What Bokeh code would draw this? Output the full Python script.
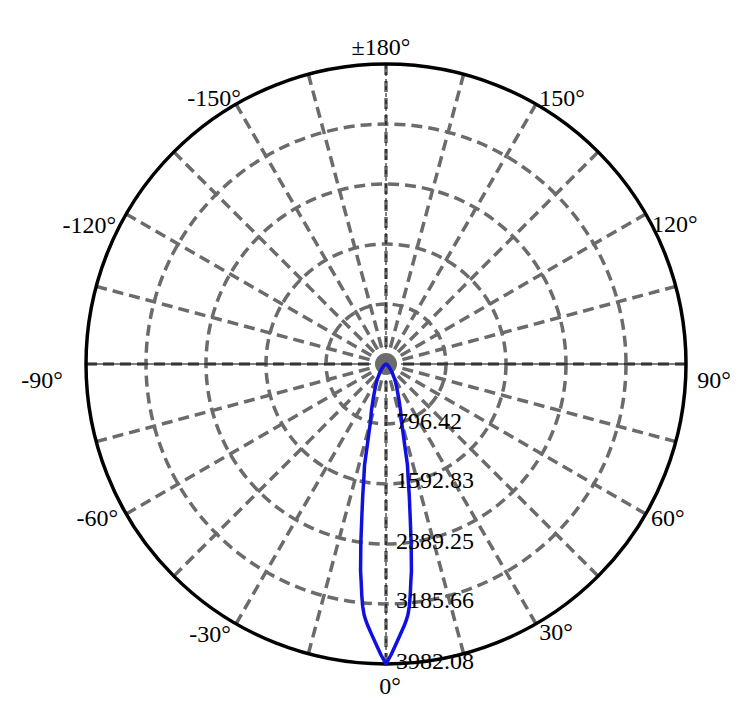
import numpy as np
from bokeh.plotting import figure
from bokeh.models import Range1d, ColumnDataSource
from bokeh.core.properties import value
from bokeh.embed import file_html
from bokeh.resources import INLINE

# ---- data ----
angles_deg = [0, 1, 2, 3, 4, 4.5, 5, 5.5, 6, 6.5, 7, 8, 9, 10, 11, 12, 13, 14, 15, 17.5,
              20, 22.5, 25, 27.5, 30, 35, 40, 45, 50, 55, 60, 70, 80, 90]
intensity = [3982.08, 3860, 3725, 3600, 3480, 3415, 3340, 3230, 3080, 2910, 2770, 2400,
             2050, 1780, 1540, 1370, 1100, 930, 800, 640, 500, 400, 330, 275, 230, 150,
             95, 60, 35, 20, 12, 5, 2, 0]
ring_values = [796.42, 1592.83, 2389.25, 3185.66, 3982.08]
ring_labels = ["796.42", "1592.83", "2389.25", "3185.66", "3982.08"]
spoke_angles = list(range(0, 360, 15))
tick_angles = [0, 30, 60, 90, 120, 150, 180, -150, -120, -90, -60, -30]
tick_labels = ["0°", "30°", "60°", "90°", "120°", "150°", "±180°",
               "-150°", "-120°", "-90°", "-60°", "-30°"]

# ---- layout ----
W, H = 747, 715
R_PX = 300.0
CX, CY = 385.5, 363.5
R = ring_values[-1]
s = R / R_PX
FONT = value("'Liberation Serif', 'Times New Roman', 'DejaVu Serif', serif")
FS = "24px"
GRAY = "#6b6b6b"
# screen-pixel nudges of each angle label's centre from its spoke end (layout only)
LABEL_DX = [4, 20, 22, 28, 29, 26, -5, -22, -37, -44, -29, -26]
LABEL_DY = [22, 8, 4, 16, 10, -6, -17, -6, 11, 16, 4, 10]

p = figure(width=W, height=H, output_backend="svg", toolbar_location=None,
           x_range=Range1d(-CX * s, (W - CX) * s),
           y_range=Range1d(-(H - CY) * s, CY * s),
           min_border=0, outline_line_color=None)
p.axis.visible = False
p.grid.visible = False
p.background_fill_color = "white"

# spokes
th = np.radians(spoke_angles)
p.segment(x0=np.zeros(len(th)), y0=np.zeros(len(th)),
          x1=R * np.sin(th), y1=-R * np.cos(th),
          line_color=GRAY, line_width=3.5, line_dash="11 6")

# dashed rings
p.circle(x=[0] * 4, y=[0] * 4, radius=ring_values[:-1], fill_color=None,
         line_color=GRAY, line_width=3.5, line_dash="11 6")

# thin black axes lines
p.segment(x0=[-R], y0=[0], x1=[R], y1=[0], line_color="black", line_width=1)
p.segment(x0=[0], y0=[-R], x1=[0], y1=[R], line_color="black", line_width=1,
          line_dash="4 3")

# outer ring
p.circle(x=[0], y=[0], radius=[R], fill_color=None, line_color="black", line_width=3.5)

# center marker
p.circle(x=[0], y=[0], radius=[15 * s], fill_color="white", line_color=None)
p.circle(x=[0], y=[0], radius=[11 * s], fill_color=GRAY, line_color=None)

# intensity curve (symmetric)
a = np.array(angles_deg, dtype=float)
I = np.array(intensity, dtype=float)
full_a = np.concatenate([-a[::-1], a[1:]])
full_I = np.concatenate([I[::-1], I[1:]])
ra = np.radians(full_a)
p.line(x=full_I * np.sin(ra), y=-full_I * np.cos(ra), line_color="#1010e0",
       line_width=3.5, line_join="round")

# ring labels
p.text(x=[0] * 5, y=[-v for v in ring_values], text=ring_labels,
       text_font=FONT, text_font_size=FS, text_align="left",
       text_baseline="middle", x_offset=10, y_offset=-3, text_color="black")

# angle labels
ta = np.radians(tick_angles)
src = ColumnDataSource(dict(x=R * np.sin(ta), y=-R * np.cos(ta), t=tick_labels,
                            xo=LABEL_DX, yo=LABEL_DY))
p.text(x="x", y="y", text="t", source=src, text_font=FONT, text_font_size=FS,
       text_align="center", text_baseline="middle", x_offset="xo", y_offset="yo",
       text_color="black")

open("out.html", "w").write(file_html(p, INLINE))
